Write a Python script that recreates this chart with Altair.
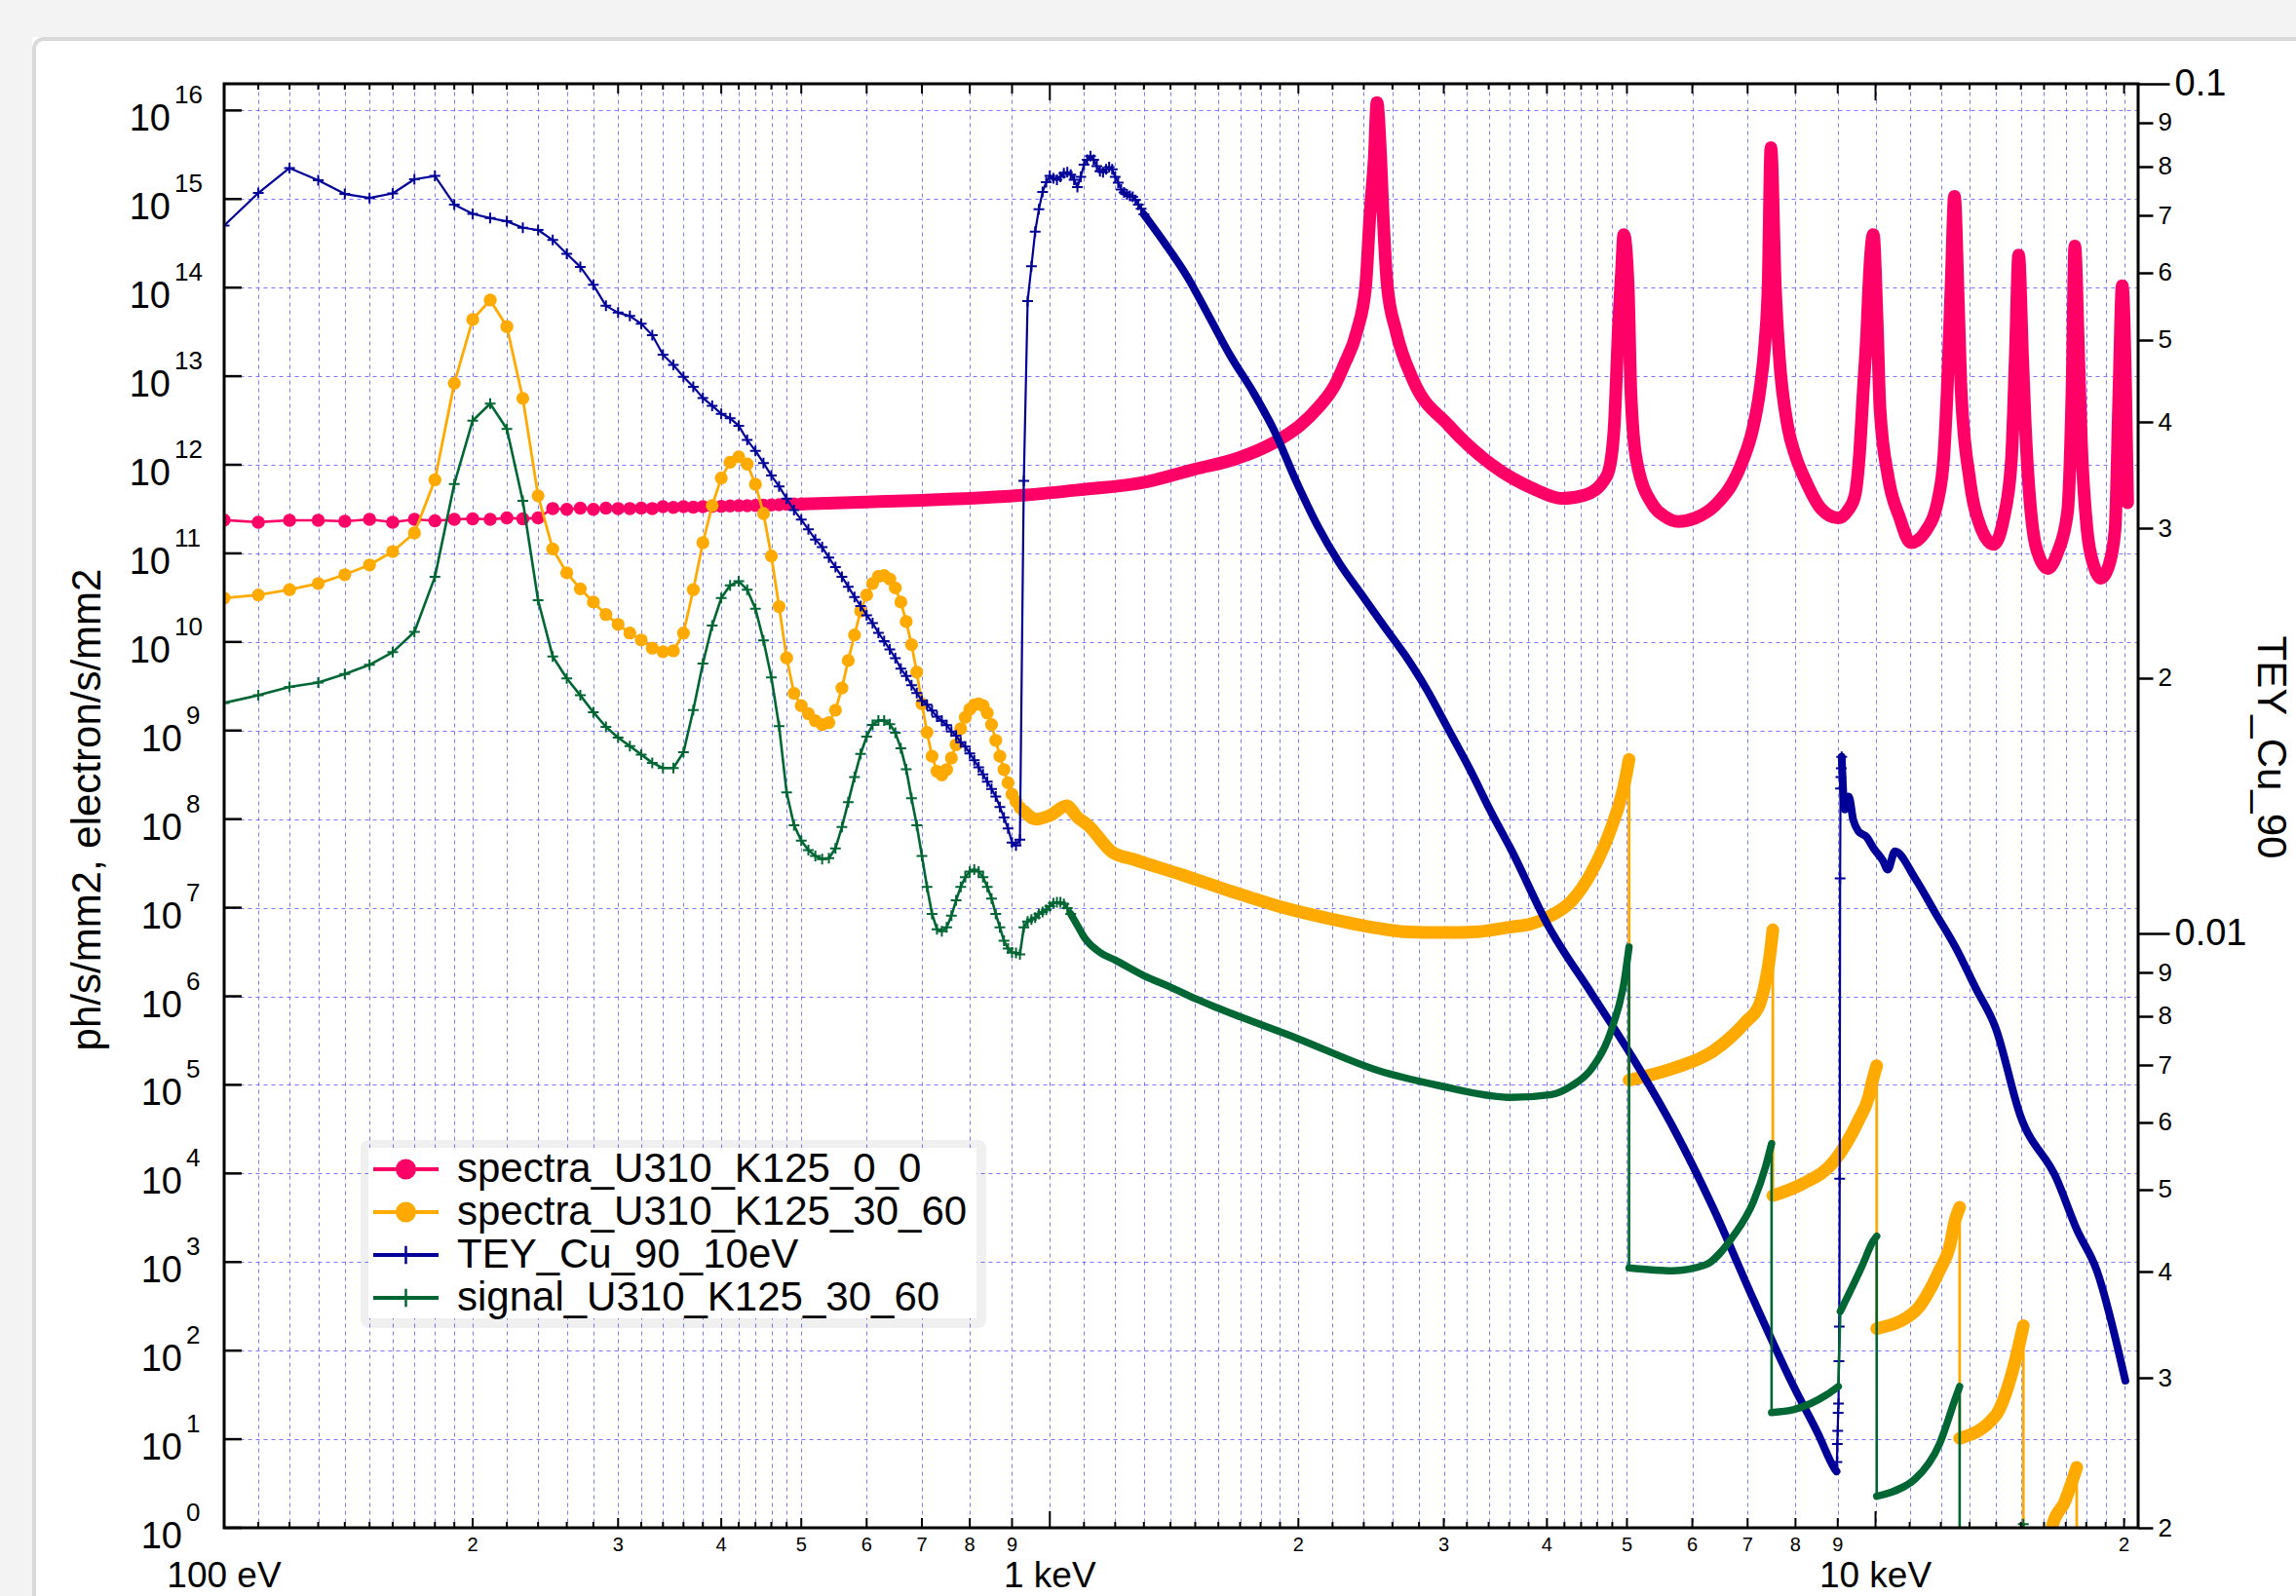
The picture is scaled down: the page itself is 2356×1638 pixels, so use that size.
import altair as alt
import pandas as pd

W, H = 1964, 1482
FONT = "Liberation Sans"
PINK, ORANGE, BLUE, GREEN = "#ff0066", "#ffaa00", "#000099", "#006633"
GRID = "#6b6bff"
PLUS = "M-1,0L1,0M0,-1L0,1"

# ---------------- axis tick values / labels ----------------
X_MINOR = [110, 120, 130, 140, 150, 160, 170, 180, 190,
           220, 240, 260, 280, 320, 340, 360, 380, 420, 440, 460, 480,
           1100, 1200, 1300, 1400, 1500, 1600, 1700, 1800, 1900,
           2200, 2400, 2600, 2800, 3200, 3400, 3600, 3800, 4200, 4400, 4600, 4800,
           11000, 12000, 13000, 14000, 15000, 16000, 17000, 18000, 19000]
X_LABELED = [200, 300, 400, 500, 600, 700, 800, 900,
             2000, 3000, 4000, 5000, 6000, 7000, 8000, 9000, 20000]
X_LABEL_TEXT = ["2", "3", "4", "5", "6", "7", "8", "9",
                "2", "3", "4", "5", "6", "7", "8", "9", "2"]
X_DECADES = [100, 1000, 10000]
X_DECADE_TEXT = ["100 eV", "1 keV", "10 keV"]
Y_EXPONENTS = list(range(0, 17))
R_TICKS = [0.002, 0.003, 0.004, 0.005, 0.006, 0.007, 0.008, 0.009,
           0.01, 0.02, 0.03, 0.04, 0.05, 0.06, 0.07, 0.08, 0.09, 0.1]

# ---------------- series: spectra_U310_K125_0_0 (pink) ----------------
PINK_DOT_E = list(range(100, 510, 10))
PINK_DOT_V = [2.38e11, 2.25e11, 2.36e11, 2.36e11, 2.30e11, 2.42e11, 2.25e11, 2.42e11, 2.33e11, 2.42e11,
              2.46e11, 2.42e11, 2.51e11, 2.46e11, 2.51e11, 3.21e11, 3.14e11, 3.25e11, 3.14e11, 3.25e11,
              3.21e11, 3.21e11, 3.25e11, 3.21e11, 3.36e11, 3.30e11, 3.36e11, 3.33e11, 3.36e11, 3.40e11,
              3.40e11, 3.43e11, 3.45e11, 3.45e11, 3.48e11, 3.50e11, 3.52e11, 3.55e11, 3.58e11, 3.60e11,
              3.62e11]
PINK_BAND_E = [500, 600, 700, 936, 1082, 1298, 1503, 1656, 1868, 2010, 2111, 2220, 2270, 2355, 2413,
               2441, 2472, 2490, 2516, 2532, 2563, 2626, 2756, 3038, 3430, 3873, 4165, 4450, 4677, 4752,
               4826, 4886, 4924, 4956, 5017, 5055, 5135, 5381, 5550, 5771, 6050, 6390, 6700, 6908, 7100,
               7240, 7350, 7412, 7470, 7562, 7647, 7827, 8000, 8201, 8600, 9007, 9250, 9441, 9560, 9663,
               9760, 9815, 9938, 10046, 10125, 10366, 10700, 11033, 11500, 11930, 12100, 12213, 12346,
               12464, 12600, 12699, 12998, 13400, 13900, 14300, 14607, 14767, 14907, 15071, 15186, 15428,
               15800, 16170, 16600, 17080, 17297, 17433, 17623, 17759, 18040, 18400, 18755, 19150, 19504,
               19716, 19898, 20200]
PINK_BAND_V = [3.62e11, 3.80e11, 3.98e11, 4.57e11, 5.2e11, 6.31e11, 9.0e11, 1.12e12, 1.78e12, 2.79e12,
               4.37e12, 8.3e12, 1.32e13, 3.24e13, 1.05e14, 6.31e14, 3.02e15, 1.23e16, 3.02e15, 7.24e14,
               1.05e14, 3.24e13, 8.91e12, 2.82e12, 1.00e12, 5.25e11, 4.17e11, 4.57e11, 6.46e11, 8.51e11,
               2.75e12, 4.17e13, 1.48e14, 3.98e14, 1.05e14, 6.76e12, 1.12e12, 3.47e11, 2.63e11, 2.29e11,
               2.51e11, 3.47e11, 6.03e11, 1.12e12, 2.51e12, 6.76e12, 2.51e13, 1.05e14, 3.80e15, 1.05e14,
               1.66e13, 2.75e12, 1.26e12, 7.08e11, 3.16e11, 2.51e11, 3.02e11, 4.47e11, 1.26e12, 6.76e12,
               3.16e13, 1.05e14, 3.98e14, 4.17e13, 4.37e12, 7.08e11, 2.51e11, 1.32e11, 1.78e11, 4.47e11,
               1.26e12, 6.76e12, 1.05e14, 1.07e15, 6.61e13, 6.76e12, 7.08e11, 2.00e11, 1.26e11, 2.51e11,
               1.12e12, 1.66e13, 2.34e14, 1.66e13, 2.75e12, 2.88e11, 8.91e10, 6.76e10, 1.00e11, 2.88e11,
               6.76e12, 2.95e14, 1.66e13, 1.78e12, 1.86e11, 7.08e10, 5.25e10, 7.08e10, 1.86e11, 6.76e12,
               1.05e14, 3.72e11]

# ---------------- series: spectra_U310_K125_30_60 (orange) ----------------
ORANGE_DOT_E = list(range(100, 940, 10))
ORANGE_DOT_V = [3.13e10, 3.39e10, 3.89e10, 4.57e10, 5.75e10, 7.41e10, 1.05e11, 1.70e11, 6.76e11, 8.32e12,
                4.37e13, 7.24e13, 3.63e13, 5.62e12, 4.47e11, 1.12e11, 6.03e10, 3.98e10, 2.82e10, 2.04e10,
                1.58e10, 1.26e10, 1.05e10, 8.51e9, 7.76e9, 7.94e9, 1.26e10, 3.89e10, 1.32e11, 3.47e11,
                7.08e11, 1.07e12, 1.23e12, 1.02e12, 6.03e11, 2.82e11, 9.33e10, 2.51e10, 6.61e9, 2.63e9,
                1.91e9, 1.55e9, 1.29e9, 1.17e9, 1.23e9, 1.70e9, 3.02e9, 6.17e9, 1.20e10, 2.24e10,
                3.39e10, 4.57e10, 5.50e10, 5.62e10, 5.13e10, 4.07e10, 2.82e10, 1.70e10, 9.33e9, 4.57e9,
                2.00e9, 9.55e8, 5.13e8, 3.47e8, 3.16e8, 3.63e8, 4.90e8, 6.92e8, 1.05e9, 1.41e9,
                1.74e9, 1.95e9, 2.00e9, 1.91e9, 1.58e9, 1.17e9, 7.76e8, 5.13e8, 3.63e8, 2.57e8,
                1.91e8, 1.58e8, 1.35e8, 1.23e8]
ORANGE_B1_E = [930, 963, 1000, 1048, 1080, 1113, 1189, 1269, 1448, 1652, 1885, 2150, 2453, 2683, 3000,
               3300, 3617, 3827, 4051, 4285, 4532, 4796, 4961, 5029]
ORANGE_B1_V = [1.23e8, 1.0e8, 1.1e8, 1.41e8, 1.05e8, 8.51e7, 4.27e7, 3.47e7, 2.34e7, 1.55e7, 1.05e7,
               7.76e6, 6.03e6, 5.37e6, 5.25e6, 5.37e6, 6.07e6, 6.55e6, 8.20e6, 1.19e7, 2.54e7, 8.41e7,
               2.42e8, 4.73e8]
ORANGE_B2_E = [5029, 5679, 6357, 6957, 7236, 7359, 7440, 7510]
ORANGE_B2_V = [1.13e5, 1.53e5, 2.40e5, 5.09e5, 8.07e5, 1.46e6, 2.66e6, 5.64e6]
ORANGE_B3_E = [7510, 8145, 8914, 9535, 9808, 9921, 10033]
ORANGE_B3_V = [5.62e3, 7.59e3, 1.38e4, 3.95e4, 7.21e4, 1.13e5, 1.65e5]
ORANGE_B4_E = [10033, 11166, 11950, 12285, 12500, 12645]
ORANGE_B4_V = [1.77e2, 2.78e2, 7.96e2, 1.45e3, 3.08e3, 4.16e3]
ORANGE_B5_E = [12645, 13985, 14470, 14798, 15102]
ORANGE_B5_V = [1.02e1, 1.86e1, 3.94e1, 8.36e1, 1.91e2]
ORANGE_OFF1_E = [15102, 16100]
ORANGE_OFF1_V = [0.3, 0.3]
ORANGE_B6_E = [16100, 16385, 16944, 17526]
ORANGE_B6_V = [0.3, 1.07, 1.95, 4.82]
ORANGE_OFF2_E = [17526]
ORANGE_OFF2_V = [0.3]

# ---------------- series: TEY_Cu_90_10eV (blue, right axis) ----------------
BLUE_DOT_E = list(range(100, 1310, 10))
BLUE_DOT_V = [0.0681, 0.0744, 0.0796, 0.0770, 0.0742, 0.0734, 0.0743, 0.0772, 0.0779, 0.0721,
              0.0703, 0.0695, 0.0689, 0.0677, 0.0673, 0.0655, 0.0631, 0.0609, 0.0580, 0.0548,
              0.0538, 0.0533, 0.0522, 0.0506, 0.0480, 0.0467, 0.0452, 0.0440, 0.0427, 0.0418,
              0.0409, 0.0404, 0.0396, 0.0381, 0.0370, 0.0358, 0.0346, 0.0336, 0.0325, 0.0315,
              0.0307, 0.0299, 0.0291, 0.0285, 0.0277, 0.0270, 0.0263, 0.0256, 0.0249, 0.0243,
              0.0237, 0.0232, 0.0226, 0.0221, 0.0216, 0.0211, 0.0205, 0.0201, 0.0196, 0.0192,
              0.0188, 0.0186, 0.0183, 0.0180, 0.0178, 0.0176, 0.0173, 0.0171, 0.0168, 0.0166,
              0.0163, 0.0160, 0.0157, 0.0154, 0.0151, 0.0148, 0.0145, 0.0141, 0.0137, 0.0133,
              0.0128, 0.0127, 0.0129, 0.0341, 0.0555, 0.0610, 0.0670, 0.0712, 0.0746, 0.0766,
              0.0779, 0.0774, 0.0771, 0.0777, 0.0785, 0.0787, 0.0782, 0.0771, 0.0756, 0.0777,
              0.0803, 0.0814, 0.0822, 0.0814, 0.0800, 0.0789, 0.0787, 0.0793, 0.0798, 0.0793,
              0.0777, 0.0765, 0.0751, 0.0745, 0.0741, 0.0738, 0.0736, 0.0730, 0.0721, 0.0713,
              0.0702]
BLUE_B1_E = [1300, 1380, 1467, 1558, 1656, 1760, 1869, 1987, 2110, 2242, 2383, 2532, 2690, 2859, 3038,
             3228, 3430, 3617, 4005, 4532, 5075, 5679, 6357, 7116, 7963, 8520, 8914, 8970]
BLUE_B1_V = [0.0702, 0.0648, 0.0593, 0.0533, 0.0478, 0.0435, 0.0391, 0.0341, 0.0302, 0.0273,
             0.0251, 0.0231, 0.0213, 0.0194, 0.0174, 0.0156, 0.01385, 0.01258, 0.01026, 0.00850,
             0.00716, 0.00593, 0.00476, 0.00371, 0.00293, 0.00258, 0.00235, 0.00233]
BLUE_EDGE_E = [8980, 8990, 9000, 9010, 9020, 9030, 9040, 9050, 9060, 9070, 9080, 9090, 9100]
BLUE_EDGE_V = [0.00239, 0.00251, 0.00260, 0.00273, 0.00280, 0.00314, 0.00345, 0.00515, 0.01162,
               0.01482, 0.01529, 0.01565, 0.01615]
BLUE_B2_E = [9100, 9180, 9280, 9400, 9535, 9752, 9950, 10202, 10350, 10556, 11166, 11815, 12500,
             13224, 13985, 14967, 16567, 17526, 18546, 20070]
BLUE_B2_V = [0.01615, 0.0140, 0.0145, 0.0136, 0.0132, 0.0130, 0.0126, 0.0122, 0.0119, 0.0125,
             0.01162, 0.01058, 0.00964, 0.00863, 0.00774, 0.00612, 0.00515, 0.00449, 0.00401, 0.00298]

# ---------------- series: signal_U310_K125_30_60 (green) ----------------
GREEN_DOT_E = list(range(100, 1070, 10))
GREEN_DOT_V = [2.05e9, 2.50e9, 3.11e9, 3.48e9, 4.34e9, 5.52e9, 7.67e9, 1.30e10, 5.42e10, 6.07e11,
               3.15e12, 4.90e12, 2.54e12, 3.91e11, 2.96e10, 6.87e9, 3.88e9, 2.50e9, 1.61e9, 1.10e9,
               8.34e8, 6.68e8, 5.36e8, 4.32e8, 3.78e8, 3.78e8, 5.68e8, 1.70e9, 5.70e9, 1.53e10,
               3.13e10, 4.35e10, 4.84e10, 3.89e10, 2.37e10, 1.04e10, 3.98e9, 1.12e9, 2.00e8, 8.51e7,
               5.71e7, 4.46e7, 3.83e7, 3.54e7, 3.63e7, 4.68e7, 8.13e7, 1.56e8, 2.99e8, 5.45e8,
               8.55e8, 1.16e9, 1.30e9, 1.30e9, 1.18e9, 9.46e8, 6.32e8, 3.65e8, 1.72e8, 8.51e7,
               3.83e7, 1.72e7, 8.51e6, 5.71e6, 5.43e6, 6.01e6, 8.11e6, 1.21e7, 1.72e7, 2.21e7,
               2.56e7, 2.70e7, 2.56e7, 2.21e7, 1.72e7, 1.27e7, 8.51e6, 6.01e6, 4.23e6, 3.46e6,
               3.13e6, 3.09e6, 2.98e6, 6.01e6, 6.98e6, 7.35e6, 7.71e6, 8.51e6, 8.97e6, 9.44e6,
               1.04e7, 1.12e7, 1.15e7, 1.15e7, 1.10e7, 9.93e6, 8.51e6]
GREEN_B1_E = [1060, 1080, 1100, 1150, 1200, 1300, 1400, 1500, 1600, 2000, 2500, 3000, 3400, 3617,
              4051, 4285, 4532, 4796, 4961, 5029]
GREEN_B1_V = [8.51e6, 6.31e6, 4.68e6, 3.13e6, 2.56e6, 1.71e6, 1.27e6, 9.42e5, 7.33e5, 3.31e5,
              1.45e5, 9.55e4, 7.59e4, 7.21e4, 7.78e4, 9.75e4, 1.53e5, 4.38e5, 1.46e6, 3.60e6]
GREEN_B2_E = [5029, 5679, 6215, 6724, 7116, 7359, 7484]
GREEN_B2_V = [8.59e2, 7.96e2, 9.25e2, 1.96e3, 4.83e3, 1.19e4, 2.17e4]
GREEN_B3_E = [7484, 7963, 8715, 9015]
GREEN_B3_V = [2.00e1, 2.16e1, 3.15e1, 3.94e1]
GREEN_B4_E = [9066, 9645, 9921, 10033]
GREEN_B4_V = [2.78e2, 9.25e2, 1.69e3, 1.96e3]
GREEN_B5_E = [10033, 11166, 11950, 12500, 12645]
GREEN_B5_V = [2.27, 3.56, 8.79, 2.92e1, 3.94e1]
GREEN_OFF1_E = [12645, 14950]
GREEN_OFF1_V = [0.3, 0.3]
GREEN_BLIP_E = [15102]
GREEN_BLIP_V = [1.1]
GREEN_OFF2_E = [15102]
GREEN_OFF2_V = [0.3]

LEGEND_NAMES = ["spectra_U310_K125_0_0", "spectra_U310_K125_30_60",
                "TEY_Cu_90_10eV", "signal_U310_K125_30_60"]
LEGEND_COLORS = [PINK, ORANGE, BLUE, GREEN]
LEGEND_MARK = ["circle", "circle", "plus", "plus"]

# ---------------- scales and axes ----------------
XS = alt.Scale(type="log", domain=[100, 20800], nice=False)
YS = alt.Scale(type="log", domain=[1, 2e16], nice=False)
RS = alt.Scale(type="log", domain=[0.002, 0.1], nice=False)

XAX = alt.Axis(values=X_MINOR + X_LABELED + X_DECADES, grid=True, gridColor=GRID, gridDash=[4, 4],
               gridWidth=1, gridOpacity=0.9, labels=False, ticks=False, domain=False, title=None)
YAX = alt.Axis(values=[10.0 ** k for k in Y_EXPONENTS], grid=True, gridColor=GRID, gridDash=[4, 4],
               gridWidth=1, gridOpacity=0.9, labels=False, ticks=False, domain=False, title=None)
BIG = "datum.value == 0.1 || datum.value == 0.01"
RAX = alt.Axis(orient="right", values=R_TICKS, title=None, grid=False, domain=False,
               ticks=True, tickColor="black", tickWidth=2.5,
               tickSize={"condition": {"test": BIG, "value": 32}, "value": 15},
               labelExpr=("datum.value == 0.1 ? '0.1' : datum.value == 0.01 ? '0.01' : "
                          "datum.value < 0.01 ? format(datum.value * 1000, '.0f') : "
                          "format(datum.value * 100, '.0f')"),
               labelFont=FONT, labelColor="black",
               labelFontSize={"condition": {"test": BIG, "value": 38}, "value": 26},
               labelPadding=5, labelBaseline="middle", labelOverlap=False, labelFlush=False)

X = alt.X("E:Q", scale=XS, axis=XAX)


def frames(pieces):
    line, dots, band = [], [], []
    o = 0
    for si, (kind, es, vs) in enumerate(pieces):
        assert len(es) == len(vs), (kind, len(es), len(vs))
        for e, v in zip(es, vs):
            line.append({"E": e, "v": v, "o": o})
            if kind == "dots":
                dots.append({"E": e, "v": v})
            elif kind == "band":
                band.append({"E": e, "v": v, "o": o, "seg": si})
            o += 1
    return pd.DataFrame(line), pd.DataFrame(dots), pd.DataFrame(band)


def series(pieces, color, yscale, yaxis, marker, band_w, dot_size, line_w):
    ldf, ddf, bdf = frames(pieces)
    Y = alt.Y("v:Q", scale=yscale, axis=yaxis)
    band = alt.Chart(bdf).mark_line(color=color, strokeWidth=band_w, strokeCap="round",
                                    strokeJoin="round", interpolate="monotone", clip=True).encode(
        x=X, y=Y, detail="seg:N", order="o:Q")
    line = alt.Chart(ldf).mark_line(color=color, strokeWidth=line_w, strokeJoin="round",
                                    clip=True).encode(x=X, y=Y, order="o:Q")
    if marker == "circle":
        dots = alt.Chart(ddf).mark_point(shape="circle", filled=True, size=dot_size, color=color,
                                         opacity=1, clip=True).encode(x=X, y=Y)
    else:
        dots = alt.Chart(ddf).mark_point(shape=PLUS, filled=False, size=dot_size, color=color,
                                         strokeWidth=2, opacity=1, clip=True).encode(x=X, y=Y)
    return [line, band, dots]


pink = series([("dots", PINK_DOT_E, PINK_DOT_V), ("band", PINK_BAND_E, PINK_BAND_V)],
              PINK, YS, YAX, "circle", 13, 182, 2.6)
orange = series([("dots", ORANGE_DOT_E, ORANGE_DOT_V), ("band", ORANGE_B1_E, ORANGE_B1_V),
                 ("band", ORANGE_B2_E, ORANGE_B2_V), ("band", ORANGE_B3_E, ORANGE_B3_V),
                 ("band", ORANGE_B4_E, ORANGE_B4_V), ("band", ORANGE_B5_E, ORANGE_B5_V),
                 ("line", ORANGE_OFF1_E, ORANGE_OFF1_V), ("band", ORANGE_B6_E, ORANGE_B6_V),
                 ("line", ORANGE_OFF2_E, ORANGE_OFF2_V)],
                ORANGE, YS, YAX, "circle", 13, 176, 2.8)
blue = series([("dots", BLUE_DOT_E, BLUE_DOT_V), ("band", BLUE_B1_E, BLUE_B1_V),
               ("dots", BLUE_EDGE_E, BLUE_EDGE_V), ("band", BLUE_B2_E, BLUE_B2_V)],
              BLUE, RS, RAX, "plus", 8, 121, 2.2)
green = series([("dots", GREEN_DOT_E, GREEN_DOT_V), ("band", GREEN_B1_E, GREEN_B1_V),
                ("band", GREEN_B2_E, GREEN_B2_V), ("band", GREEN_B3_E, GREEN_B3_V),
                ("band", GREEN_B4_E, GREEN_B4_V), ("band", GREEN_B5_E, GREEN_B5_V),
                ("line", GREEN_OFF1_E, GREEN_OFF1_V), ("dots", GREEN_BLIP_E, GREEN_BLIP_V),
                ("line", GREEN_OFF2_E, GREEN_OFF2_V)],
               GREEN, YS, None, "plus", 7.5, 121, 2.6)

one = pd.DataFrame({"k": [0]})

# ---------------- frame, ticks, labels ----------------
frame = alt.Chart(one).mark_rect(fillOpacity=0, stroke="black", strokeWidth=3).encode(
    x=alt.value(0), x2=alt.value(W), y=alt.value(0), y2=alt.value(H))


def xticks(vals, length):
    df = pd.DataFrame({"E": vals})
    bot = alt.Chart(df).mark_rule(color="black", strokeWidth=2).encode(
        x=X, y=alt.value(H), y2=alt.value(H - length))
    top = alt.Chart(df).mark_rule(color="black", strokeWidth=2).encode(
        x=X, y=alt.value(0), y2=alt.value(length))
    return [bot, top]


tick_layers = xticks(X_MINOR, 6) + xticks(X_LABELED, 10) + xticks(X_DECADES, 17)

ydf = pd.DataFrame({"v": [10.0 ** k for k in Y_EXPONENTS], "ex": [str(k) for k in Y_EXPONENTS]})
YC = alt.Y("v:Q", scale=YS, axis=None)
yticks = alt.Chart(ydf).mark_rule(color="black", strokeWidth=2.5).encode(
    x=alt.value(0), x2=alt.value(18), y=YC)
ten_a = alt.Chart(ydf).transform_filter("datum.v < 5e9").mark_text(
    text="10", align="right", baseline="alphabetic", dy=21, font=FONT, fontSize=38,
    color="black").encode(x=alt.value(-43), y=YC)
ten_b = alt.Chart(ydf).transform_filter("datum.v > 5e9").mark_text(
    text="10", align="right", baseline="alphabetic", dy=21, font=FONT, fontSize=38,
    color="black").encode(x=alt.value(-55), y=YC)
ex_a = alt.Chart(ydf).transform_filter("datum.v < 5e9").mark_text(
    align="left", baseline="alphabetic", dy=-7, font=FONT, fontSize=26, color="black").encode(
    x=alt.value(-39), y=YC, text="ex:N")
ex_b = alt.Chart(ydf).transform_filter("datum.v > 5e9").mark_text(
    align="left", baseline="alphabetic", dy=-7, font=FONT, fontSize=26, color="black").encode(
    x=alt.value(-51), y=YC, text="ex:N")

xdig = alt.Chart(pd.DataFrame({"E": X_LABELED, "t": X_LABEL_TEXT})).mark_text(
    align="center", baseline="alphabetic", font=FONT, fontSize=20, color="black").encode(
    x=X, y=alt.value(H + 24), text="t:N")
xdec = alt.Chart(pd.DataFrame({"E": X_DECADES, "t": X_DECADE_TEXT})).mark_text(
    align="center", baseline="alphabetic", font=FONT, fontSize=37, color="black").encode(
    x=X, y=alt.value(H + 61), text="t:N")

# ---------------- legend, titles, page decoration ----------------
leg = pd.DataFrame({"name": LEGEND_NAMES, "row": [0, 1, 2, 3], "mk": LEGEND_MARK})
ROW = alt.Y("row:Q", scale=alt.Scale(domain=[0, 3], range=[1114, 1246]), axis=None)
COL = alt.Color("name:N", scale=alt.Scale(domain=LEGEND_NAMES, range=LEGEND_COLORS), legend=None)

page_left = alt.Chart(one).mark_rect(fill="#f3f3f3").encode(
    x=alt.value(-230), x2=alt.value(-197), y=alt.value(-86), y2=alt.value(H + 70))
page_top = alt.Chart(one).mark_rect(fill="#f3f3f3").encode(
    x=alt.value(-230), x2=alt.value(W + 162), y=alt.value(-86), y2=alt.value(-48))
page_frame = alt.Chart(one).mark_rect(fillOpacity=0, stroke="#d9d9d9", strokeWidth=4,
                                      cornerRadius=10).encode(
    x=alt.value(-195), x2=alt.value(W + 400), y=alt.value(-46), y2=alt.value(H + 300))
leg_shadow = alt.Chart(one).mark_rect(fill="#000000", opacity=0.06, cornerRadius=8).encode(
    x=alt.value(140), x2=alt.value(782), y=alt.value(1084), y2=alt.value(1277))
leg_box = alt.Chart(one).mark_rect(fill="white").encode(
    x=alt.value(148), x2=alt.value(772), y=alt.value(1092), y2=alt.value(1267))
leg_lines = alt.Chart(leg).mark_rule(strokeWidth=4).encode(
    x=alt.value(153), x2=alt.value(220), y=ROW, color=COL)
leg_circ = alt.Chart(leg).transform_filter("datum.mk == 'circle'").mark_point(
    shape="circle", filled=True, size=441, opacity=1).encode(x=alt.value(186.5), y=ROW, color=COL)
leg_plus = alt.Chart(leg).transform_filter("datum.mk == 'plus'").mark_point(
    shape=PLUS, filled=False, size=340, strokeWidth=2.5, opacity=1).encode(
    x=alt.value(186.5), y=ROW, color=COL)
leg_text = alt.Chart(leg).mark_text(align="left", baseline="middle", font=FONT, fontSize=42,
                                    color="black").encode(x=alt.value(239), y=ROW, text="name:N")
title_left = alt.Chart(one).mark_text(text="ph/s/mm2, electron/s/mm2", angle=270, align="center",
                                      baseline="middle", font=FONT, fontSize=42,
                                      color="black").encode(x=alt.value(-140), y=alt.value(745))
title_right = alt.Chart(one).mark_text(text="TEY_Cu_90", angle=90, align="center",
                                       baseline="middle", font=FONT, fontSize=42,
                                       color="black").encode(x=alt.value(2100), y=alt.value(681))

A = alt.layer(*pink, *orange)
B = alt.layer(*blue)
C = alt.layer(*green, frame, *tick_layers, yticks, ten_a, ten_b, ex_a, ex_b, xdig, xdec)
D = alt.layer(page_left, page_top, page_frame, leg_shadow, leg_box, leg_lines, leg_circ, leg_plus,
              leg_text, title_left, title_right)

chart = alt.layer(A, B, C, D).resolve_scale(
    y="independent", color="independent"
).properties(
    width=W, height=H,
    padding={"left": 230, "top": 86, "right": 162, "bottom": 70},
    autosize=alt.AutoSizeParams(type="none"),
).configure_view(stroke=None).configure(background="white")

chart.save("out.html", embed_options={"renderer": "svg", "actions": False})
